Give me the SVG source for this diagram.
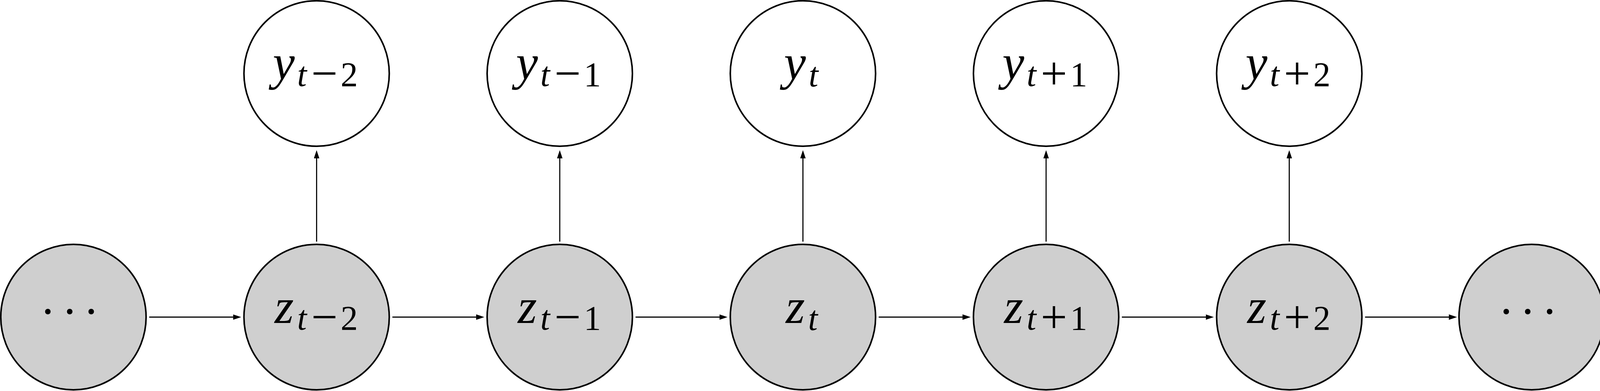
<svg xmlns="http://www.w3.org/2000/svg" width="4111" height="1000" viewBox="0 0 4111 1000">
<style>
.obs{fill:#ffffff;stroke:#000;stroke-width:4}
.lat{fill:#cfcfcf;stroke:#000;stroke-width:4}
.edge{stroke:#000;stroke-width:2.8;fill:none;marker-end:url(#ah)}
.lbl{font-family:"Liberation Serif","Times New Roman",serif;fill:#000;text-anchor:middle}
.m{font-size:126px;font-style:italic}
.s{font-size:88px;font-style:italic}
.o{font-size:120px;font-style:normal}
.d{font-size:88px;font-style:normal}
.dots{font-size:120px}
</style>
<defs>
<marker id="ah" markerUnits="userSpaceOnUse" markerWidth="22" markerHeight="14" refX="13" refY="7" orient="auto">
<path d="M0,0 L21,7 L0,14 z" fill="#000"/>
</marker>
</defs>
<g id="connectors">
<line class="edge" x1="382" y1="811" x2="609.5" y2="811"/>
<line class="edge" x1="1004.5" y1="811" x2="1232" y2="811"/>
<line class="edge" x1="1627" y1="811" x2="1854.5" y2="811"/>
<line class="edge" x1="2249.5" y1="811" x2="2477" y2="811"/>
<line class="edge" x1="2872" y1="811" x2="3099.5" y2="811"/>
<line class="edge" x1="3494.5" y1="811" x2="3722" y2="811"/>
<line class="edge" x1="810.5" y1="618" x2="810.5" y2="392"/>
<line class="edge" x1="1433" y1="618" x2="1433" y2="392"/>
<line class="edge" x1="2055.5" y1="618" x2="2055.5" y2="392"/>
<line class="edge" x1="2678" y1="618" x2="2678" y2="392"/>
<line class="edge" x1="3300.5" y1="618" x2="3300.5" y2="392"/>
</g>
<g id="y_tm2">
<circle class="obs" cx="810.5" cy="188" r="186"/>
<text class="lbl"><tspan class="m" x="726.5" y="203">y</tspan><tspan class="s" x="773" y="220">t</tspan><tspan class="o" x="830.5" y="228">−</tspan><tspan class="d" x="894" y="220">2</tspan></text>
</g>
<g id="y_tm1">
<circle class="obs" cx="1433" cy="188" r="186"/>
<text class="lbl"><tspan class="m" x="1349" y="203">y</tspan><tspan class="s" x="1395.5" y="220">t</tspan><tspan class="o" x="1453" y="228">−</tspan><tspan class="d" x="1516.5" y="220">1</tspan></text>
</g>
<g id="y_t">
<circle class="obs" cx="2055.5" cy="188" r="186"/>
<text class="lbl"><tspan class="m" x="2035" y="203">y</tspan><tspan class="s" x="2082.5" y="221">t</tspan></text>
</g>
<g id="y_tp1">
<circle class="obs" cx="2678" cy="188" r="186"/>
<text class="lbl"><tspan class="m" x="2594" y="203">y</tspan><tspan class="s" x="2640.5" y="220">t</tspan><tspan class="o" x="2698" y="228">+</tspan><tspan class="d" x="2761.5" y="220">1</tspan></text>
</g>
<g id="y_tp2">
<circle class="obs" cx="3300.5" cy="188" r="186"/>
<text class="lbl"><tspan class="m" x="3216.5" y="203">y</tspan><tspan class="s" x="3263" y="220">t</tspan><tspan class="o" x="3320.5" y="228">+</tspan><tspan class="d" x="3384" y="220">2</tspan></text>
</g>
<g id="z_start">
<circle class="lat" cx="188" cy="811" r="186"/>
<text class="lbl dots" x="122.5 178.5 233.5" y="837">···</text>
</g>
<g id="z_tm2">
<circle class="lat" cx="810.5" cy="811" r="186"/>
<text class="lbl"><tspan class="m" x="727.5" y="826">z</tspan><tspan class="s" x="773" y="843">t</tspan><tspan class="o" x="830.5" y="851">−</tspan><tspan class="d" x="894" y="843">2</tspan></text>
</g>
<g id="z_tm1">
<circle class="lat" cx="1433" cy="811" r="186"/>
<text class="lbl"><tspan class="m" x="1350" y="826">z</tspan><tspan class="s" x="1395.5" y="843">t</tspan><tspan class="o" x="1453" y="851">−</tspan><tspan class="d" x="1516.5" y="843">1</tspan></text>
</g>
<g id="z_t">
<circle class="lat" cx="2055.5" cy="811" r="186"/>
<text class="lbl"><tspan class="m" x="2036" y="826">z</tspan><tspan class="s" x="2081" y="844">t</tspan></text>
</g>
<g id="z_tp1">
<circle class="lat" cx="2678" cy="811" r="186"/>
<text class="lbl"><tspan class="m" x="2595" y="826">z</tspan><tspan class="s" x="2640.5" y="843">t</tspan><tspan class="o" x="2698" y="851">+</tspan><tspan class="d" x="2761.5" y="843">1</tspan></text>
</g>
<g id="z_tp2">
<circle class="lat" cx="3300.5" cy="811" r="186"/>
<text class="lbl"><tspan class="m" x="3217.5" y="826">z</tspan><tspan class="s" x="3263" y="843">t</tspan><tspan class="o" x="3320.5" y="851">+</tspan><tspan class="d" x="3384" y="843">2</tspan></text>
</g>
<g id="z_end">
<circle class="lat" cx="3921" cy="811" r="186"/>
<text class="lbl dots" x="3856 3911 3967" y="837">···</text>
</g>
</svg>
